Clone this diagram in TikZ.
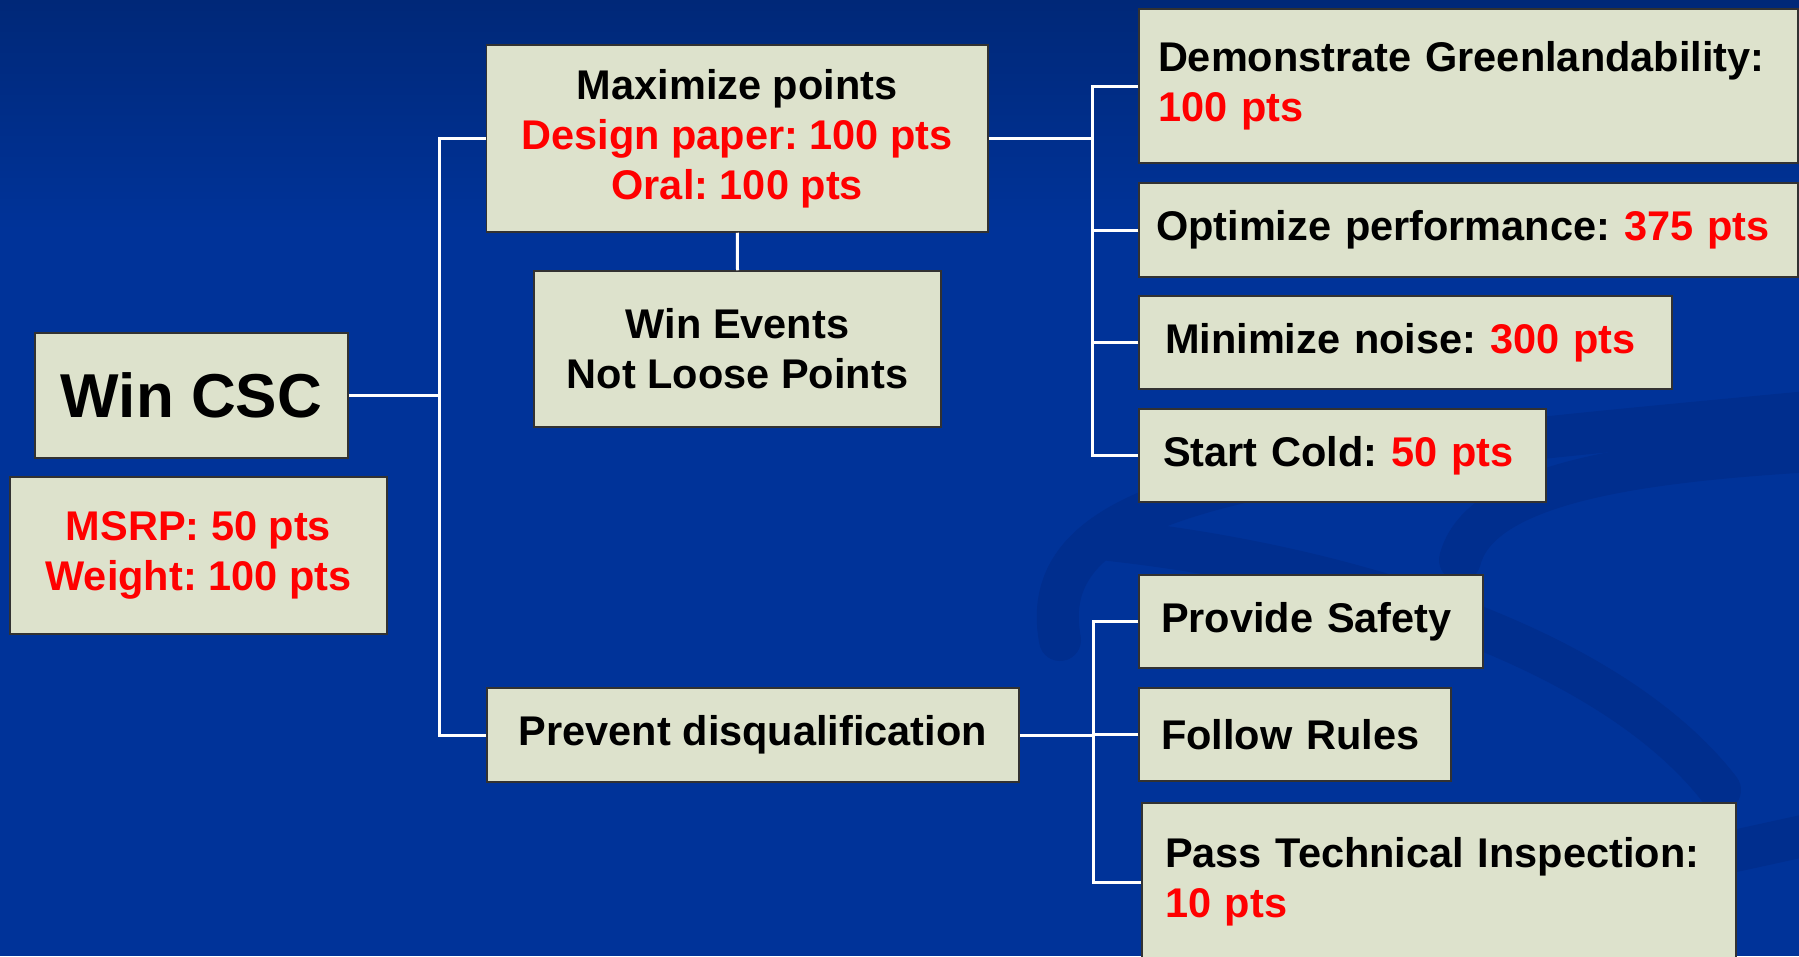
\documentclass[tikz,border=0pt]{standalone}
\usepackage{fontspec}
\setmainfont{Liberation Sans}
\frenchspacing
\definecolor{bg}{RGB}{0,51,153}
\definecolor{bgtop}{RGB}{0,40,120}
\definecolor{swirl}{RGB}{0,46,142}
\definecolor{boxfill}{RGB}{221,226,204}
\definecolor{boxline}{RGB}{50,50,50}
\definecolor{pts}{RGB}{255,0,0}
\begin{document}
\begin{tikzpicture}[x=1pt,y=-1pt,
  box/.style={draw=boxline, line width=1.5pt, fill=boxfill, inner sep=0pt,
    font=\bfseries\fontsize{41.5}{50}\selectfont\frenchspacing, align=center},
  lbox/.style={box, align=left},
  conn/.style={draw=white, line width=3pt},
  band/.style={draw=swirl, line width=42pt, line cap=round}]
\useasboundingbox (0,0) rectangle (1799,956);
\clip (0,0) rectangle (1799,956);
\fill[bg] (0,0) rectangle (1799,956);
\shade[top color=bgtop, bottom color=bg] (0,0) rectangle (1799,230);
% decorative swirl
\draw[band] (1060,640) .. controls (1030,480) and (1300,460) .. (1830,410);
\draw[band] (1460,560) .. controls (1480,480) and (1650,460) .. (1830,450);
\draw[band] (1110,540) .. controls (1380,570) and (1620,660) .. (1720,790);
\draw[band] (1830,830) .. controls (1560,890) and (1350,930) .. (1150,990);

% nodes
\node[box, minimum width=313, minimum height=125,
  font=\bfseries\fontsize{62}{70}\selectfont] (wincsc) at (191.5,395.5) {Win CSC};
\node[box, minimum width=377, minimum height=157, text=pts] (msrp) at (198.5,555.5)
  {MSRP: 50 pts\\Weight: 100 pts};
\node[box, minimum width=501.5, minimum height=187] (maxp) at (737.25,138.5)
  {Maximize points\\\textcolor{pts}{Design paper: 100 pts}\\\textcolor{pts}{Oral: 100 pts}};
\node[box, minimum width=407, minimum height=156] (winev) at (737.5,349)
  {Win Events\\Not Loose Points};
\node[box, minimum width=532, minimum height=94] (prev) at (753,735)
  {Prevent disqualification};

\node[lbox, minimum width=659, minimum height=154, text width=621, inner xsep=19] (demo)
  at (1468.5,86) {Demonstrate Greenlandability:\\\textcolor{pts}{100 pts}};
\node[lbox, minimum width=659, minimum height=94, text width=625, inner xsep=17] (optim)
  at (1468.5,230) {Optimize performance: \textcolor{pts}{375 pts}};
\node[lbox, minimum width=533, minimum height=93, text width=481, inner xsep=26] (minim)
  at (1405.5,342.5) {Minimize noise: \textcolor{pts}{300 pts}};
\node[lbox, minimum width=407, minimum height=93, text width=359, inner xsep=24] (startc)
  at (1342.5,455.5) {Start Cold: \textcolor{pts}{50 pts}};
\node[lbox, minimum width=344, minimum height=93, text width=300, inner xsep=22] (safety)
  at (1311,621.5) {Provide Safety};
\node[lbox, minimum width=312, minimum height=93, text width=268, inner xsep=22] (rules)
  at (1295,734.5) {Follow Rules};
\node[lbox, minimum width=594, minimum height=158, text width=548, inner xsep=23] (pass)
  at (1439,882) {Pass Technical Inspection:\\\textcolor{pts}{10 pts}};

% connectors
\coordinate (tl) at (439,0);
\coordinate (tr) at (1092,0);
\coordinate (tb) at (1093,0);
\draw[conn] (wincsc.east) -- (wincsc.east -| tl);
\draw[conn] (maxp.west) -- (maxp.west -| tl) |- (prev.west);
\draw[conn] (maxp.south) -- (winev.north);
\draw[conn] (maxp.east) -- (maxp.east -| tr);
\draw[conn] (demo.west) -- (demo.west -| tr) |- (startc.west);
\draw[conn] (optim.west) -- (optim.west -| tr);
\draw[conn] (minim.west) -- (minim.west -| tr);
\draw[conn] (prev.east) -- (prev.east -| tb);
\draw[conn] (safety.west) -- (safety.west -| tb) |- (pass.west);
\draw[conn] (rules.west) -- (rules.west -| tb);
\end{tikzpicture}
\end{document}
